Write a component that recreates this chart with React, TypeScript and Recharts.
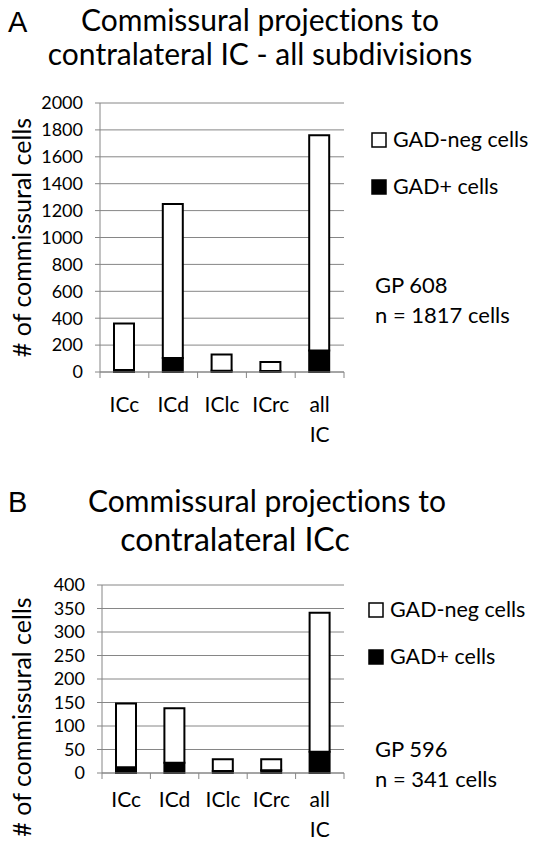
import { BarChart, Bar, XAxis, YAxis, CartesianGrid, Legend } from 'recharts';

// categories on the x axis
const categories = ['ICc', 'ICd', 'IClc', 'ICrc', 'all IC'];

// panel A - GP 608, all subdivisions
const gadPosA = [15, 105, 10, 8, 160];
const gadNegA = [345, 1145, 120, 67, 1600];
const ticksA = [0, 200, 400, 600, 800, 1000, 1200, 1400, 1600, 1800, 2000];

// panel B - GP 596, ICc
const gadPosB = [12, 22, 4, 6, 45];
const gadNegB = [136, 116, 25, 23, 296];
const ticksB = [0, 50, 100, 150, 200, 250, 300, 350, 400];

const FONT = 'Lato, "Open Sans", sans-serif';
const GREY = '#868686';
const W = 537;
const X_H = 60;
const NO_LIGA = { fontVariantLigatures: 'none' as const, fontFeatureSettings: '"liga" 0, "clig" 0' };

function CategoryTick(props: any) {
  const { x, y, payload, index, band, count, labelDy } = props;
  const lines = String(payload.value).split(' ');
  const left = x - band / 2;
  return (
    <g>
      <line x1={left} x2={left} y1={y} y2={y + 6} stroke={GREY} />
      {index === count - 1 && <line x1={left + band} x2={left + band} y1={y} y2={y + 6} stroke={GREY} />}
      <text x={x} y={y + labelDy} textAnchor="middle" fontSize={21} fill="#000" fontFamily={FONT}>
        {lines.map((l, i) => (
          <tspan key={i} x={x} dy={i === 0 ? 0 : 30}>{l}</tspan>
        ))}
      </text>
    </g>
  );
}

function LegendBox(props: any) {
  // GAD-neg on top like the original, so reverse the series order
  const items = [...(props.payload || [])].reverse();
  return (
    <svg width={200} height={70} style={{ overflow: 'visible' }}>
      {items.map((it: any, i: number) => (
        <g key={it.value}>
          <rect x={2} y={i * 47 + 2} width={14} height={14} fill={it.color} stroke="#000" strokeWidth={1.5} />
          <text x={23} y={i * 47 + 16} fontSize={21.5} fontFamily={FONT} fill="#000">{it.value}</text>
        </g>
      ))}
    </svg>
  );
}

type PanelProps = {
  gadPos: number[];
  gadNeg: number[];
  ticks: number[];
  top: number;
  height: number;
  plotTop: number;
  plotBottom: number;
  plotLeft: number;
  plotRight: number;
  legendLeft: number;
  legendTop: number;
  labelDy: number;
  yLabelShift: number;
};

function Panel(p: PanelProps) {
  const data = categories.map((c, i) => ({ name: c, pos: p.gadPos[i], neg: p.gadNeg[i] }));
  const band = (p.plotRight - p.plotLeft) / categories.length;
  const max = p.ticks[p.ticks.length - 1];
  return (
    <div style={{ position: 'absolute', left: 0, top: p.top }}>
      <BarChart
        width={W}
        height={p.height}
        data={data}
        barSize={20}
        margin={{ top: p.plotTop, right: W - p.plotRight, left: 0, bottom: p.height - p.plotBottom - X_H }}
        style={{ fontFamily: FONT }}
      >
        <CartesianGrid vertical={false} stroke={GREY} strokeWidth={1} />
        <XAxis
          dataKey="name"
          height={X_H}
          interval={0}
          axisLine={{ stroke: GREY }}
          tickLine={false}
          tickSize={0}
          tickMargin={0}
          tick={(tp: any) => <CategoryTick {...tp} band={band} count={categories.length} labelDy={p.labelDy} />}
        />
        <YAxis
          width={p.plotLeft}
          domain={[0, max]}
          ticks={p.ticks}
          interval={0}
          axisLine={{ stroke: GREY }}
          tickLine={{ stroke: GREY }}
          tickSize={5}
          tickMargin={12}
          tick={{ fontSize: 18, fill: '#000', fontFamily: FONT }}
          label={(lp: any) => {
            const vb = lp.viewBox || {};
            const cy = (vb.y ?? p.plotTop) + (vb.height ?? p.plotBottom - p.plotTop) / 2 + p.yLabelShift;
            return (
              <text
                x={21}
                y={cy}
                transform={`rotate(-90 21 ${cy})`}
                textAnchor="middle"
                dominantBaseline="central"
                fontSize={25}
                fontFamily={FONT}
                fill="#000"
              >
                # of commissural cells
              </text>
            );
          }}
        />
        <Legend
          layout="horizontal"
          verticalAlign="middle"
          align="center"
          content={<LegendBox />}
          wrapperStyle={{ left: p.legendLeft, top: p.legendTop, width: 200, height: 70 }}
        />
        <Bar dataKey="pos" name="GAD+ cells" stackId="a" fill="#000" stroke="#000" strokeWidth={2} isAnimationActive={false} />
        <Bar dataKey="neg" name="GAD-neg cells" stackId="a" fill="#fff" stroke="#000" strokeWidth={2} isAnimationActive={false} />
      </BarChart>
    </div>
  );
}

export default function App() {
  return (
    <div style={{ position: 'absolute', left: 0, top: 0, width: W, height: 850, background: '#fff' }}>
      <Panel
        gadPos={gadPosA}
        gadNeg={gadNegA}
        ticks={ticksA}
        top={0}
        height={460}
        plotTop={103}
        plotBottom={372}
        plotLeft={100}
        plotRight={344}
        legendLeft={370}
        legendTop={131}
        labelDy={40}
        yLabelShift={0}
      />
      <Panel
        gadPos={gadPosB}
        gadNeg={gadNegB}
        ticks={ticksB}
        top={460}
        height={390}
        plotTop={125}
        plotBottom={313}
        plotLeft={102}
        plotRight={344}
        legendLeft={367}
        legendTop={141}
        labelDy={34}
        yLabelShift={38}
      />
      <svg width={W} height={850} style={{ position: 'absolute', left: 0, top: 0, pointerEvents: 'none', ...NO_LIGA }}>
        <g fontFamily={FONT} fill="#000">
          <text x={8} y={32} fontSize={29} fontFamily='"Liberation Sans", Arial, sans-serif'>A</text>
          <text x={260} y={31} fontSize={30} textAnchor="middle">Commissural projections to</text>
          <text x={260} y={65} fontSize={30} textAnchor="middle">contralateral IC - all subdivisions</text>
          <text x={375} y={293} fontSize={22}>GP 608</text>
          <text x={375} y={323} fontSize={22}>n = 1817 cells</text>

          <text x={8} y={512} fontSize={29} fontFamily='"Liberation Sans", Arial, sans-serif'>B</text>
          <text x={267} y={512} fontSize={30} textAnchor="middle">Commissural projections to</text>
          <text x={235} y={551} fontSize={32} textAnchor="middle">contralateral ICc</text>
          <text x={375} y={757} fontSize={22}>GP 596</text>
          <text x={375} y={787} fontSize={22}>n = 341 cells</text>
        </g>
      </svg>
    </div>
  );
}
